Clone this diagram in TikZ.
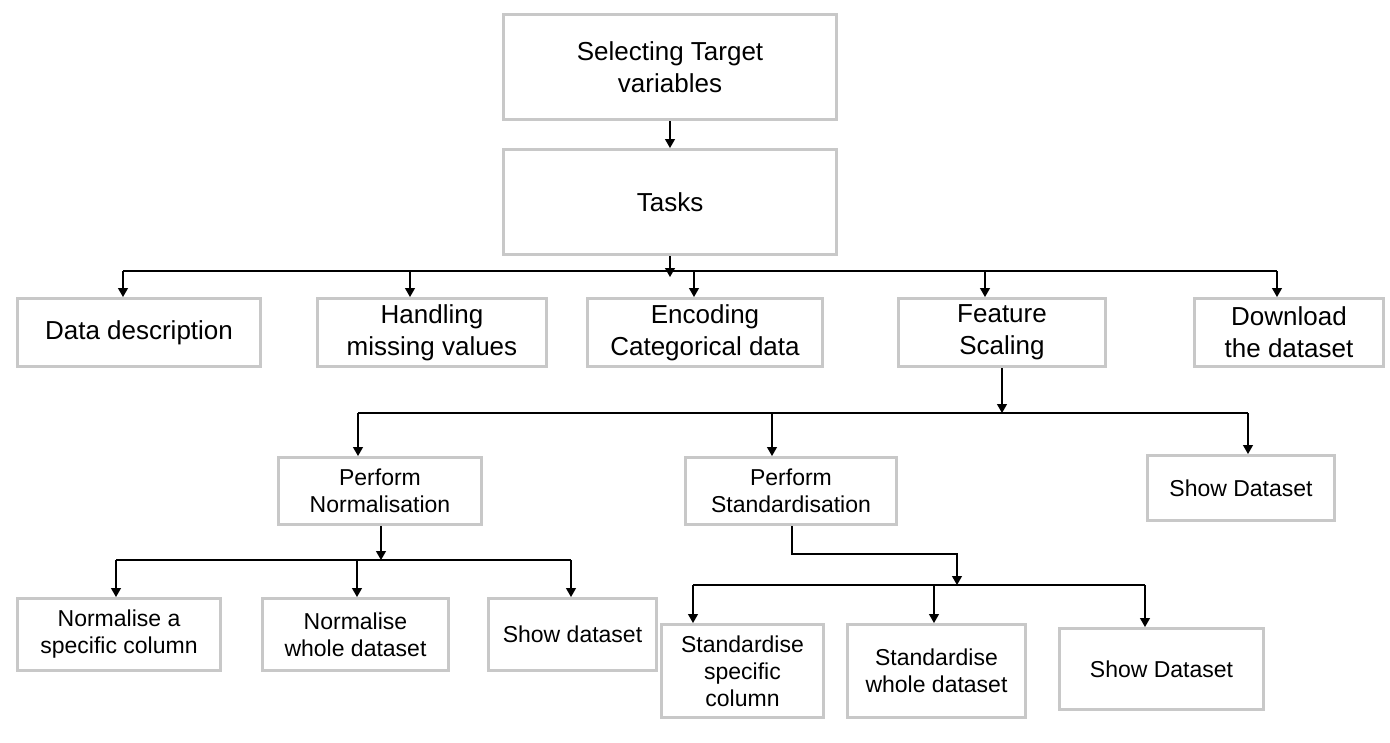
\documentclass[tikz,border=0pt]{standalone}
\usepackage{fontspec}
\setmainfont{Liberation Sans}
\usetikzlibrary{arrows.meta}
\begin{document}
\begin{tikzpicture}[x=1pt,y=-1pt,
  box/.style={draw={rgb,255:red,200;green,200;blue,200}, line width=3pt, inner sep=0pt, align=center, fill=white},
  big/.style={font=\fontsize{26}{32}\selectfont},
  small/.style={font=\fontsize{23}{27}\selectfont},
  conn/.style={line width=1.2pt, black},
  arr/.style={conn, -{Triangle[length=9pt,width=10pt]}}]
\path[use as bounding box, fill=white] (0,0) rectangle (1390,742);
% level 1-2
\node[box,big,minimum width=333pt,minimum height=105pt] (tgt) at (670,67) {Selecting Target\\variables};
\node[box,big,minimum width=333pt,minimum height=105pt] (tasks) at (670,202) {Tasks};
% level 3
\node[box,big,minimum width=243pt,minimum height=68pt] (dd) at (139,332.5) {Data description};
\node[box,big,minimum width=229pt,minimum height=68pt] (hmv) at (432,332.5) {Handling\\missing values};
\node[box,big,minimum width=235pt,minimum height=68pt] (enc) at (705,332.5) {Encoding\\Categorical data};
\node[box,big,minimum width=207pt,minimum height=68pt] (fs) at (1002,332.5) {Feature\\Scaling};
\node[box,big,minimum width=189pt,minimum height=68pt] (dl) at (1289,332.5) {Download\\the dataset};
% level 4
\node[box,small,minimum width=203pt,minimum height=67pt] (pn) at (380,491) {Perform\\Normalisation};
\node[box,small,minimum width=211pt,minimum height=67pt] (ps) at (791,491) {Perform\\Standardisation};
\node[box,small,minimum width=187pt,minimum height=65pt] (sd1) at (1241,488) {Show Dataset};
% level 5
\node[box,small,minimum width=203pt,minimum height=72pt] (n1) at (119,634.5) {Normalise a\\specific column};
\node[box,small,minimum width=186pt,minimum height=72pt] (n2) at (355.5,634.5) {Normalise\\whole dataset};
\node[box,small,minimum width=168pt,minimum height=72pt] (n3) at (572.5,634.5) {Show dataset};
\node[box,small,minimum width=162pt,minimum height=93pt] (s1) at (742.5,671) {Standardise\\specific\\column};
\node[box,small,minimum width=178pt,minimum height=93pt] (s2) at (936.5,671) {Standardise\\whole dataset};
\node[box,small,minimum width=204pt,minimum height=81pt] (s3) at (1161.5,669) {Show Dataset};
% connectors
\draw[arr] (tgt.south) -- (tasks.north);
\coordinate (t1) at (670,277);
\draw[arr] (tasks.south) -- (t1);
\coordinate (bA) at (123,271);
\coordinate (bB) at (410,271);
\coordinate (bC) at (694,271);
\coordinate (bD) at (985,271);
\coordinate (bE) at (1277,271);
\draw[conn] (bA) -- (bE);
\draw[arr] (bA) -- (bA |- dd.north);
\draw[arr] (bB) -- (bB |- hmv.north);
\draw[arr] (bC) -- (bC |- enc.north);
\draw[arr] (bD) -- (bD |- fs.north);
\draw[arr] (bE) -- (bE |- dl.north);
% feature scaling branch
\coordinate (cM) at (1002,413);
\coordinate (cA) at (358,413);
\coordinate (cB) at (772,413);
\coordinate (cC) at (1248,413);
\draw[arr] (fs.south) -- (cM);
\draw[conn] (cA) -- (cC);
\draw[arr] (cA) -- (cA |- pn.north);
\draw[arr] (cB) -- (cB |- ps.north);
\draw[arr] (cC) -- (cC |- sd1.north);
% normalisation branch
\coordinate (pM) at (381,560);
\coordinate (pA) at (116,560);
\coordinate (pB) at (357,560);
\coordinate (pC) at (571,560);
\draw[arr] (pn.south -| pM) -- (pM);
\draw[conn] (pA) -- (pC);
\draw[arr] (pA) -- (pA |- n1.north);
\draw[arr] (pB) -- (pB |- n2.north);
\draw[arr] (pC) -- (pC |- n3.north);
% standardisation branch
\coordinate (sK) at (792,554);
\coordinate (sL) at (957,554);
\coordinate (sM) at (957,585);
\coordinate (sA) at (693,585);
\coordinate (sB) at (934,585);
\coordinate (sC) at (1145,585);
\draw[arr] (ps.south -| sK) -- (sK) -- (sL) -- (sM);
\draw[conn] (sA) -- (sC);
\draw[arr] (sA) -- (sA |- s1.north);
\draw[arr] (sB) -- (sB |- s2.north);
\draw[arr] (sC) -- (sC |- s3.north);
\end{tikzpicture}
\end{document}
